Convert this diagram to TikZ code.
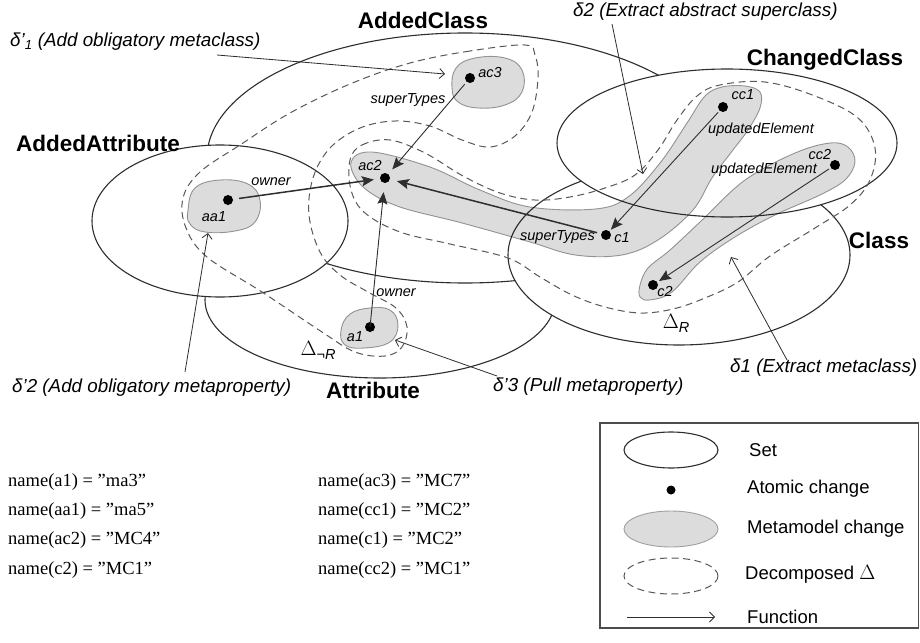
\documentclass[tikz,border=0pt]{standalone}
\usepackage{fontspec}
\setmainfont{Liberation Sans}
\newfontfamily\namefont{Liberation Serif}
\usetikzlibrary{arrows.meta}
\definecolor{lineC}{HTML}{2E2E2E}
\definecolor{grayF}{HTML}{DCDCDC}
\definecolor{grayB}{HTML}{A0A0A0}
\tikzset{
  setell/.style={draw=lineC, line width=1.1pt, fill=white},
  mmchange/.style={fill=grayF, draw=grayB, line width=0.9pt, blend mode=multiply},
  decomp/.style={draw=lineC!80, line width=1pt, dash pattern=on 7pt off 4.5pt},
  atom/.style={circle, fill=black, inner sep=0pt, minimum size=10pt},
  func/.style={draw=lineC, line width=0.9pt, -{Stealth[length=12pt,width=10pt,inset=2pt]}},
  funcb/.style={func, line width=1.5pt},
  refarrow/.style={draw=lineC, line width=0.8pt, -{Straight Barb[length=5pt,width=10pt]}},
  settitle/.style={font=\fontsize{22.5}{25}\selectfont\bfseries},
  dlabel/.style={anchor=west, inner sep=0pt, font=\fontsize{18.8}{21}\selectfont\itshape},
  slabel/.style={inner sep=0pt, font=\fontsize{14.5}{16}\selectfont\itshape},
  legtext/.style={anchor=west, inner sep=0pt, font=\fontsize{18.5}{21}\selectfont},
  nametext/.style={anchor=west, inner sep=0pt, font=\namefont\fontsize{18.5}{21}\selectfont}
}
\begin{document}
\begin{tikzpicture}[x=1pt,y=-1pt]
\useasboundingbox (0,0) rectangle (920,642);
\fill[white] (0,0) rectangle (920,642);

% sets
\draw[setell] (380,300) ellipse [x radius=175pt, y radius=78pt];
\draw[setell] (465,158) ellipse [x radius=258pt, y radius=125pt];
\draw[setell] (220,221) ellipse [x radius=128pt, y radius=76pt];
\draw[setell] (679,255) ellipse [x radius=171pt, y radius=90pt];
\draw[setell] (727,143) ellipse [x radius=170pt, y radius=74pt];

% set titles
\node[settitle] (tAddedClass) at (423,20) {AddedClass};
\node[settitle] (tAddedAttr) at (98,143) {AddedAttribute};
\node[settitle] (tChanged) at (825,60) {ChangedClass};
\node[settitle] (tClass) at (879,240) {Class};
\node[settitle] (tAttr) at (373,390) {Attribute};

% metamodel changes
\draw[mmchange] plot[smooth cycle, tension=0.7] coordinates {(452,88) (456,68) (475,58) (505,58) (522,70) (522,92) (505,105) (478,108) (458,102)};
\draw[mmchange] plot[smooth cycle, tension=0.7] coordinates {(188,210) (195,188) (220,180) (248,184) (260,200) (255,222) (235,231) (205,232) (190,224)};
\draw[mmchange] plot[smooth cycle, tension=0.7] coordinates {(341,330) (350,314) (370,308) (390,310) (398,325) (390,342) (365,348) (345,345)};
\draw[mmchange] plot[smooth cycle, tension=0.6] coordinates {(351,162) (372,152) (430,167) (480,190) (530,207) (595,209) (628,197) (660,163) (687,123) (705,96) (722,87) (745,86) (760,92) (760,108) (748,130) (733,150) (712,178) (693,210) (658,240) (622,255) (575,255) (530,242) (462,223) (397,206) (362,186)};
\draw[mmchange] plot[smooth cycle, tension=0.6] coordinates {(640,285) (648,268) (670,250) (700,222) (745,180) (795,153) (830,143) (848,147) (855,162) (845,180) (820,195) (775,215) (735,237) (700,262) (672,292) (650,300) (640,297)};

% decomposed deltas
\draw[decomp] plot[smooth cycle, tension=0.6] coordinates {(525,45) (470,51) (410,63) (350,84) (290,113) (240,145) (200,172) (183,198) (186,228) (207,257) (262,292) (322,332) (355,352) (385,356) (402,347) (407,327) (396,308) (368,292) (340,275) (320,252) (309,215) (313,178) (330,148) (360,128) (395,121) (430,126) (462,140) (490,147) (515,136) (532,112) (538,78) (535,55)};
\draw[decomp] plot[smooth cycle, tension=0.6] coordinates {(350,160) (362,145) (390,140) (425,153) (463,176) (500,193) (535,200) (570,197) (605,188) (635,175) (658,150) (677,120) (697,96) (720,85) (765,82) (815,96) (858,118) (875,148) (870,180) (850,205) (815,228) (770,256) (738,282) (705,298) (673,309) (640,313) (605,307) (572,295) (540,277) (508,258) (450,244) (400,232) (365,213) (351,190)};

\node[font=\fontsize{20}{22}\selectfont] (dnr) at (318,350) {$\Delta$\raisebox{-4pt}{\fontsize{14.5}{16}\selectfont\itshape ¬R}};
\node[font=\fontsize{20}{22}\selectfont] (dr) at (676,323) {$\Delta$\raisebox{-4pt}{\fontsize{14.5}{16}\selectfont\itshape R}};

% atomic changes
\node[atom] (ac3) at (470,78) {};
\node[atom] (ac2) at (385,178) {};
\node[atom] (aa1) at (228,200) {};
\node[atom] (a1) at (370,327) {};
\node[atom] (c1) at (606,235) {};
\node[atom] (cc1) at (723,107) {};
\node[atom] (cc2) at (835,165) {};
\node[atom] (c2) at (653,285) {};

\node[slabel] (lac3) at (490,73) {ac3};
\node[slabel] (lac2) at (370,166) {ac2};
\node[slabel] (laa1) at (214,217) {aa1};
\node[slabel] (la1) at (355,337) {a1};
\node[slabel] (lc1) at (622,238) {c1};
\node[slabel] (lcc1) at (743,95) {cc1};
\node[slabel] (lcc2) at (820,155) {cc2};
\node[slabel] (lc2) at (665,292) {c2};

% functions
\draw[funcb, shorten <=6pt, shorten >=6pt] (aa1) -- (ac2);
\draw[func, shorten >=9pt] (a1.center) -- (ac2);
\draw[funcb, shorten <=4pt, shorten >=7pt] (c1) -- (ac2);
\draw[func, shorten <=3pt, shorten >=6pt] (ac3) -- (ac2);
\draw[func, shorten <=2pt, shorten >=2pt] (cc1) -- (c1);
\draw[func, shorten <=2pt, shorten >=2pt] (cc2) -- (c2);

\node[slabel] (lown1) at (271,182) {owner};
\node[slabel] (lown2) at (396,293) {owner};
\node[slabel] (lsup1) at (408,100) {superTypes};
\node[slabel, anchor=east] (lsup2) at (595,237) {superTypes};
\node[slabel] (lupd1) at (761,130) {updatedElement};
\node[slabel] (lupd2) at (764,170) {updatedElement};

% delta labels
\node[dlabel] (dp1) at (10,42) {δ'\textsubscript{1} (Add obligatory metaclass)};
\node[dlabel] (dp2) at (12,388) {δ'2 (Add obligatory metaproperty)};
\node[dlabel] (dp3) at (493,387) {δ'3 (Pull metaproperty)};
\node[dlabel] (d1) at (730,368) {δ1 (Extract metaclass)};
\node[dlabel] (d2) at (573,12) {δ2 (Extract abstract superclass)};

\coordinate (dp1s) at (217,55);  \coordinate (dp1e) at (445,74);
\coordinate (dp2s) at (185,372); \coordinate (dp2e) at (208,233);
\coordinate (dp3s) at (497,376); \coordinate (dp3e) at (395,340);
\coordinate (d1s) at (787,360);  \coordinate (d1e) at (731,257);
\coordinate (d2s) at (612,24);   \coordinate (d2e) at (643,174);
\draw[refarrow] (dp1s) -- (dp1e);
\draw[refarrow] (dp2s) -- (dp2e);
\draw[refarrow] (dp3s) -- (dp3e);
\draw[refarrow] (d1s) -- (d1e);
\draw[refarrow] (d2s) -- (d2e);

% names
\node[nametext] (n1) at (8,482) {name(a1) = ”ma3”};
\node[nametext] (n2) at (8,511) {name(aa1) = ”ma5”};
\node[nametext] (n3) at (8,540) {name(ac2) = ”MC4”};
\node[nametext] (n4) at (8,570) {name(c2) = ”MC1”};
\node[nametext] (n5) at (318,482) {name(ac3) = ”MC7”};
\node[nametext] (n6) at (318,511) {name(cc1) = ”MC2”};
\node[nametext] (n7) at (318,540) {name(c1) = ”MC2”};
\node[nametext] (n8) at (318,570) {name(cc2) = ”MC1”};

% legend
\draw[draw=lineC!85, line width=1.1pt] (600,423) rectangle (918.5,628);
\draw[setell] (671,450) ellipse [x radius=47pt, y radius=18pt];
\node[atom, minimum size=9pt] (legdot) at (671,490) {};
\draw[fill=grayF, draw=grayB, line width=0.9pt] (671,529) ellipse [x radius=47pt, y radius=18pt];
\draw[decomp] (671,576) ellipse [x radius=47pt, y radius=18pt];
\coordinate (lfs) at (627,617); \coordinate (lfe) at (715,617);
\draw[refarrow] (lfs) -- (lfe);
\node[legtext] (lt1) at (749,450) {Set};
\node[legtext] (lt2) at (747,489) {Atomic change};
\node[legtext] (lt3) at (747,529) {Metamodel change};
\node[legtext] (lt4) at (745,574) {Decomposed {\fontsize{22}{22}\selectfont$\Delta$}};
\node[legtext] (lt5) at (747,617) {Function};
\end{tikzpicture}
\end{document}
